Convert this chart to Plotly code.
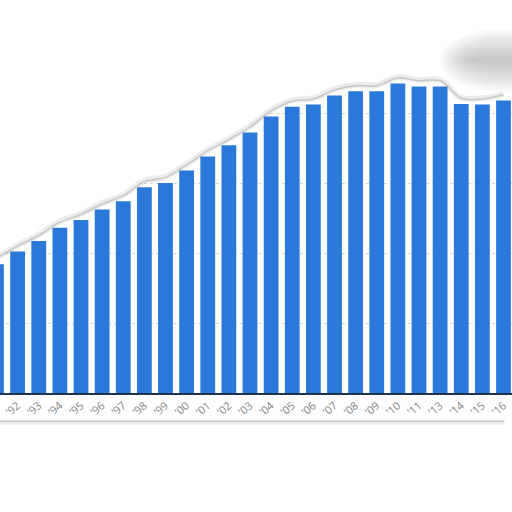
import plotly.graph_objects as go

years = ["’91", "’92", "’93", "’94", "’95", "’96", "’97", "’98", "’99", "’00",
         "’01", "’02", "’03", "’04", "’05", "’06", "’07", "’08", "’09", "’10",
         "’11", "’13", "’14", "’15", "’16"]
values = [18.4, 20.2, 21.7, 23.6, 24.7, 26.2, 27.4, 29.4, 30.0, 31.8,
          33.8, 35.4, 37.2, 39.5, 40.9, 41.2, 42.5, 43.1, 43.1, 44.2,
          43.8, 43.8, 41.3, 41.2, 41.8]
grid_values = [0, 10, 20, 30, 40, 50]

positions = list(range(len(years)))
BAR_COLOR = "#2a78da"
TOP = 60

fig = go.Figure()

fig.add_trace(go.Bar(
    x=positions, y=values, marker=dict(color=BAR_COLOR, line=dict(width=0)),
    width=0.70, showlegend=False, hoverinfo="skip"))

# torn paper: blank area above the bars (hides the grid there)
fig.add_trace(go.Scatter(
    x=positions, y=[TOP] * len(positions), mode="lines",
    line=dict(width=0, color="white"), hoverinfo="skip", showlegend=False))
fig.add_trace(go.Scatter(
    x=positions, y=[v + 0.9 for v in values], mode="lines", fill="tonexty",
    fillcolor="white",
    line=dict(color="rgba(120,120,120,0.14)", width=6, shape="spline"),
    hoverinfo="skip", showlegend=False))
fig.add_trace(go.Scatter(
    x=positions, y=[v + 0.8 for v in values], mode="lines",
    line=dict(color="rgba(110,110,110,0.3)", width=1.5, shape="spline"),
    hoverinfo="skip", showlegend=False))

shapes = []
# bottom torn-edge shadow below the tick labels
shapes.append(dict(type="line", xref="paper", yref="paper", x0=0, x1=0.985,
                   y0=-0.083, y1=-0.083,
                   line=dict(color="rgba(120,120,120,0.15)", width=5)))
shapes.append(dict(type="line", xref="paper", yref="paper", x0=0, x1=0.985,
                   y0=-0.081, y1=-0.081,
                   line=dict(color="rgba(110,110,110,0.3)", width=1.2)))
# smoky blob in the top right corner
for i in range(10):
    d = i * 3
    shapes.append(dict(type="circle", xref="paper", yref="paper",
                       x0=0.86 + d / 512, x1=1.10 - d / 512,
                       y0=0.86 + d / 350, y1=1.04 - d / 350,
                       fillcolor="rgba(110,110,110,0.045)", line=dict(width=0),
                       layer="above"))

fig.update_layout(
    width=512, height=512,
    margin=dict(l=0, r=0, t=43, b=119, autoexpand=False),
    paper_bgcolor="white", plot_bgcolor="white",
    bargap=0.3,
    shapes=shapes,
    hovermode=False,
    xaxis=dict(
        range=[0.1657, 24.402], automargin=False,
        tickmode="array", tickvals=positions, ticktext=years,
        tickangle=-40, tickfont=dict(family="Open Sans", size=11, color="#858585"),
        showgrid=False, zeroline=False, showline=True,
        linecolor="#1c3352", linewidth=2, ticks="", fixedrange=True),
    yaxis=dict(
        range=[0, 50], tickvals=grid_values, showticklabels=False, automargin=False,
        showgrid=True, gridcolor="#d6d6d6", griddash="dot", gridwidth=1,
        zeroline=False, showline=False, fixedrange=True),
)

fig.write_html(
    "out.html",
    config={"displayModeBar": False},
    post_script="document.body.style.margin='0';document.body.style.overflow='hidden';",
)
